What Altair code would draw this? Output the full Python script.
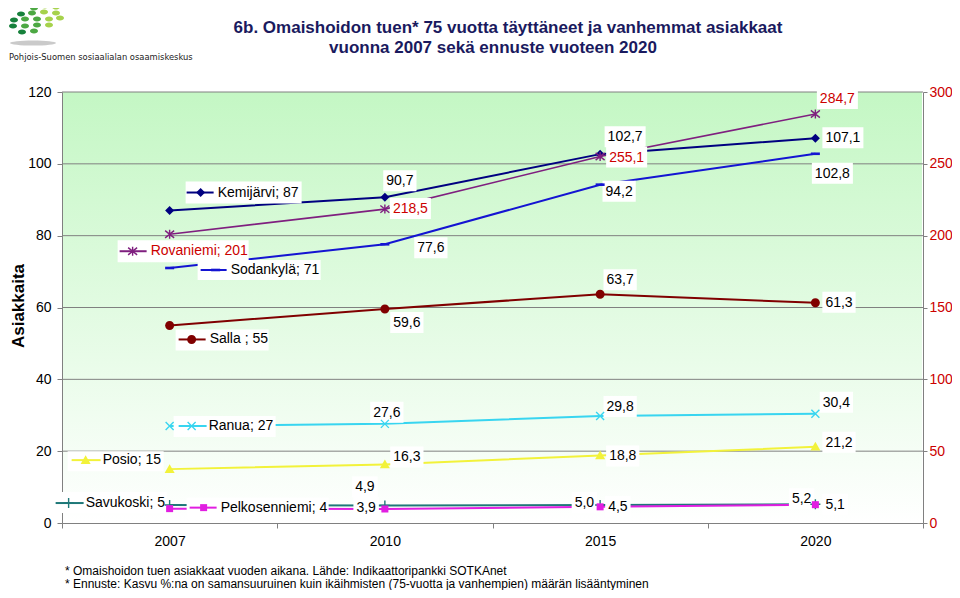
import altair as alt
import pandas as pd

# ---------------- data ----------------
years = ["2007", "2010", "2015", "2020"]
kemijarvi = [87.0, 90.7, 102.7, 107.1]
rovaniemi = [201.0, 218.5, 255.1, 284.7]
sodankyla = [71.0, 77.6, 94.2, 102.8]
salla = [55.0, 59.6, 63.7, 61.3]
ranua = [27.0, 27.6, 29.8, 30.4]
posio = [15.0, 16.3, 18.8, 21.2]
savukoski = [5.0, 4.9, 5.0, 5.2]
pelkosenniemi = [4.0, 3.9, 4.5, 5.1]

series_names = ["Kemijärvi", "Rovaniemi", "Sodankylä", "Salla", "Ranua",
                "Posio", "Savukoski", "Pelkosenniemi"]
series_values = [kemijarvi, rovaniemi, sodankyla, salla, ranua,
                 posio, savukoski, pelkosenniemi]
legend_labels = ["Kemijärvi; 87", "Rovaniemi; 201", "Sodankylä; 71", "Salla ; 55",
                 "Ranua; 27", "Posio; 15", "Savukoski; 5", "Pelkosenniemi; 4"]
right_axis_series = ["Rovaniemi"]
left_ticks = [0, 20, 40, 60, 80, 100, 120]
right_ticks = [0, 50, 100, 150, 200, 250, 300]
title_lines = ["6b. Omaishoidon tuen* 75 vuotta täyttäneet ja vanhemmat asiakkaat",
               "vuonna 2007 sekä ennuste vuoteen 2020"]
footnotes = ["* Omaishoidon tuen asiakkaat vuoden aikana. Lähde: Indikaattoripankki SOTKAnet",
             "* Ennuste: Kasvu %:na on samansuuruinen kuin ikäihmisten (75-vuotta ja vanhempien) määrän lisääntyminen"]
logo_caption = "Pohjois-Suomen sosiaalialan osaamiskeskus"
y_title = "Asiakkaita"

values = dict(zip(series_names, series_values))
legend_text = dict(zip(series_names, legend_labels))

# ---------------- style ----------------
FONT = "Liberation Sans, Arial, Helvetica, sans-serif"
X0, Y0, W, H = 62, 92, 861, 431          # plot area on the page
RED = "#CC0000"
NAVY = "#1A1A5E"

STYLE = {
    "Kemijärvi":     dict(color="#000080", width=2.0, marker="diamond", r=4.5),
    "Rovaniemi":     dict(color="#7F1F7F", width=1.6, marker="star", r=4.5),
    "Sodankylä":     dict(color="#1414D2", width=2.0, marker="dash", r=4.5),
    "Salla":         dict(color="#800000", width=2.0, marker="circle", r=4.5),
    "Ranua":         dict(color="#38D5F0", width=2.0, marker="x", r=4.0),
    "Posio":         dict(color="#F2F23A", width=2.0, marker="triangle", r=5.0),
    "Savukoski":     dict(color="#1E7878", width=2.0, marker="plus", r=5.0),
    "Pelkosenniemi": dict(color="#E11EE1", width=2.0, marker="square", r=3.5),
}
FILLED = {"diamond", "circle", "square", "triangle", "dash"}

# value-label placement (align, dx, dy) in pixels relative to the data point
LABEL_POS = {
    "Kemijärvi":     {"2010": ("center", 15, -16), "2015": ("center", 25, -17), "2020": ("left", 10, 0)},
    "Rovaniemi":     {"2010": ("left", 8, 0), "2015": ("left", 9, 1), "2020": ("center", 22, -15)},
    "Sodankylä":     {"2010": ("center", 46, 4), "2015": ("center", 19, 7), "2020": ("center", 17, 20)},
    "Salla":         {"2010": ("center", 22, 14), "2015": ("center", 20, -14), "2020": ("left", 10, 0)},
    "Ranua":         {"2010": ("center", 2, -11), "2015": ("center", 20, -9), "2020": ("center", 21, -11)},
    "Posio":         {"2010": ("center", 22, -7), "2015": ("left", 9, 1), "2020": ("left", 10, -4)},
    "Savukoski":     {"2010": ("center", -20, -18), "2015": ("right", -6, -2), "2020": ("right", -4, -5)},
    "Pelkosenniemi": {"2010": ("right", -9, -1), "2015": ("left", 8, 0), "2020": ("left", 10, 0)},
}
# legend-entry placement relative to the 2007 point
LEGEND_POS = {
    "Kemijärvi":     dict(box=(16, 132, -29, -7), line=(17, 44), dy=-18, mk=31, tx=48),
    "Rovaniemi":     dict(box=(-52, 79, 6, 28), line=(-50, -23), dy=17, mk=-37, tx=-19),
    "Sodankylä":     dict(box=(28, 151, -8, 12), line=(31, 57), dy=2, mk=46, tx=61),
    "Salla":         dict(box=(6, 99, 4, 25), line=(9, 36), dy=14, mk=22, tx=40),
    "Ranua":         dict(box=(4, 106, -10, 11), line=(9, 37), dy=0, mk=22, tx=39),
    "Posio":         dict(box=(-102, -6, -18, 2), line=(-98, -69), dy=-9, mk=-84, tx=-67),
    "Savukoski":     dict(box=(-116, -3, -13, 8), line=(-114, -86), dy=-2, mk=-101, tx=-84),
    "Pelkosenniemi": dict(box=(17, 159, -11, 10), line=(20, 47), dy=-1, mk=34, tx=51),
}


def n(v):
    return f"{round(v, 2):g}"


def rect_path(x1, x2, y1, y2):
    return f"M{n(x1)},{n(y1)}L{n(x2)},{n(y1)}L{n(x2)},{n(y2)}L{n(x1)},{n(y2)}Z"


def ellipse_path(cx, cy, rx, ry):
    return (f"M{n(cx - rx)},{n(cy)}A{n(rx)},{n(ry)},0,1,0,{n(cx + rx)},{n(cy)}"
            f"A{n(rx)},{n(ry)},0,1,0,{n(cx - rx)},{n(cy)}Z")


def marker_path(kind, cx, cy, r):
    if kind == "diamond":
        return f"M{n(cx - r)},{n(cy)}L{n(cx)},{n(cy - r)}L{n(cx + r)},{n(cy)}L{n(cx)},{n(cy + r)}Z"
    if kind == "circle":
        return ellipse_path(cx, cy, r, r)
    if kind == "square":
        return rect_path(cx - r, cx + r, cy - r, cy + r)
    if kind == "triangle":
        return f"M{n(cx)},{n(cy - r)}L{n(cx + r)},{n(cy + r * 0.75)}L{n(cx - r)},{n(cy + r * 0.75)}Z"
    if kind == "dash":
        return rect_path(cx - r, cx + r, cy - 1.3, cy + 1.3)
    if kind == "x":
        return (f"M{n(cx - r)},{n(cy - r)}L{n(cx + r)},{n(cy + r)}"
                f"M{n(cx - r)},{n(cy + r)}L{n(cx + r)},{n(cy - r)}")
    if kind == "plus":
        return f"M{n(cx - r)},{n(cy)}L{n(cx + r)},{n(cy)}M{n(cx)},{n(cy - r)}L{n(cx)},{n(cy + r)}"
    # star (asterisk)
    return (f"M{n(cx)},{n(cy - r)}L{n(cx)},{n(cy + r)}"
            f"M{n(cx - r)},{n(cy - r * 0.8)}L{n(cx + r)},{n(cy + r * 0.8)}"
            f"M{n(cx - r)},{n(cy + r * 0.8)}L{n(cx + r)},{n(cy - r * 0.8)}")


CHAR_W = {",": 0.278, " ": 0.278}


def text_w(s, size=14):
    return sum(CHAR_W.get(c, 0.556) for c in s) * size


def fmt(v):
    return f"{v:.1f}".replace(".", ",")


# ---------------- encodings ----------------
X = alt.X("year:O", bandPosition=0.5,
          scale=alt.Scale(type="band", domain=years, paddingInner=0, paddingOuter=0),
          axis=alt.Axis(title=None, labelAngle=0, labelFont=FONT, labelFontSize=14,
                        labelColor="black", tickBand="extent", tickSize=5,
                        tickColor="#808080", domainColor="#808080", labelPadding=6,
                        grid=False))
Y_LEFT = alt.Y("value:Q", scale=alt.Scale(domain=[0, 120], nice=False),
               axis=alt.Axis(values=left_ticks, orient="left", title=None,
                             labelFont=FONT, labelFontSize=14, labelColor="black",
                             labelPadding=6, tickSize=5, tickColor="#808080",
                             domainColor="#808080", grid=False))
Y_RIGHT = alt.Y("value:Q", scale=alt.Scale(domain=[0, 300], nice=False),
                axis=alt.Axis(values=right_ticks, orient="right", title=None,
                              labelFont=FONT, labelFontSize=14, labelColor=RED,
                              labelPadding=2, tickSize=4, tickColor="#808080",
                              domainColor="#808080", grid=False))

gradient = alt.LinearGradient(
    gradient="linear",
    stops=[alt.GradientStop(color="#C4F7C4", offset=0),
           alt.GradientStop(color="#FFFFFF", offset=1)],
    x1=0, x2=0, y1=0, y2=1)

dummy = pd.DataFrame({"d": [0]})
background = alt.Chart(dummy).mark_rect(color=gradient).encode(
    x=alt.value(1), x2=alt.value(W - 1), y=alt.value(0), y2=alt.value(H - 1))
gridlines = alt.Chart(pd.DataFrame({"value": left_ticks[1:]})).mark_rule(
    color="#808080", strokeWidth=1).encode(x=alt.value(0), x2=alt.value(W), y=Y_LEFT)


def series_layers(names, Y):
    rows_line, rows_box, rows_stroke, rows_fill, rows_text = [], [], [], [], []
    for name in names:
        st = STYLE[name]
        vals = values[name]
        txt_color = RED if name in right_axis_series else "black"
        for yr, v in zip(years, vals):
            rows_line.append(dict(series=name, year=yr, value=v,
                                  color=st["color"], sw=st["width"]))
            mp = marker_path(st["marker"], 0, 0, st["r"])
            if st["marker"] in FILLED:
                rows_fill.append(dict(series=name, year=yr, value=v, path=mp, color=st["color"]))
            else:
                rows_stroke.append(dict(series=name, year=yr, value=v, path=mp,
                                        color=st["color"], sw=1.4))
            if yr in LABEL_POS[name]:
                lab = fmt(v)
                align, dx, dy = LABEL_POS[name][yr]
                w = text_w(lab)
                if align == "left":
                    bx = (dx - 3, dx + w + 3)
                elif align == "right":
                    bx = (dx - w - 3, dx + 3)
                else:
                    bx = (dx - w / 2 - 3, dx + w / 2 + 3)
                rows_box.append(dict(series=name, year=yr, value=v,
                                     path=rect_path(bx[0], bx[1], dy - 11, dy + 10)))
                rows_text.append(dict(series=name, year=yr, value=v, label=lab,
                                      align=align, dx=dx, dy=dy, color=txt_color))
        # legend entry next to the 2007 point
        lg = LEGEND_POS[name]
        v0 = vals[0]
        b = lg["box"]
        rows_box.append(dict(series=name, year=years[0], value=v0,
                             path=rect_path(b[0], b[1], b[2], b[3])))
        rows_stroke.append(dict(series=name, year=years[0], value=v0,
                                path=f"M{lg['line'][0]},{lg['dy']}L{lg['line'][1]},{lg['dy']}",
                                color=st["color"], sw=2.0))
        mp = marker_path(st["marker"], lg["mk"], lg["dy"], st["r"])
        if st["marker"] in FILLED:
            rows_fill.append(dict(series=name, year=years[0], value=v0, path=mp, color=st["color"]))
        else:
            rows_stroke.append(dict(series=name, year=years[0], value=v0, path=mp,
                                    color=st["color"], sw=1.4))
        rows_text.append(dict(series=name, year=years[0], value=v0, label=legend_text[name],
                              align="left", dx=lg["tx"], dy=lg["dy"], color=txt_color))

    df_line = pd.DataFrame(rows_line)
    df_box = pd.DataFrame(rows_box)
    df_stroke = pd.DataFrame(rows_stroke)
    df_fill = pd.DataFrame(rows_fill)
    df_text = pd.DataFrame(rows_text)

    layers = [
        alt.Chart(df_line).mark_line().encode(
            x=X, y=Y, detail="series:N",
            color=alt.Color("color:N", scale=None),
            strokeWidth=alt.StrokeWidth("sw:Q", scale=None)),
        alt.Chart(df_box).mark_point(filled=True, color="white", size=4, opacity=1,
                                     strokeWidth=0).encode(
            x=X, y=Y, shape=alt.Shape("path:N", scale=None)),
    ]
    if len(df_stroke):
        layers.append(alt.Chart(df_stroke).mark_point(filled=False, size=4, opacity=1).encode(
            x=X, y=Y, shape=alt.Shape("path:N", scale=None),
            stroke=alt.Stroke("color:N", scale=None),
            strokeWidth=alt.StrokeWidth("sw:Q", scale=None)))
    if len(df_fill):
        layers.append(alt.Chart(df_fill).mark_point(filled=True, size=4, opacity=1,
                                                    strokeWidth=0).encode(
            x=X, y=Y, shape=alt.Shape("path:N", scale=None),
            fill=alt.Fill("color:N", scale=None)))
    for r in rows_text:
        layers.append(
            alt.Chart(df_text)
            .transform_filter((alt.datum.series == r["series"]) & (alt.datum.year == r["year"]))
            .mark_text(align=r["align"], baseline="middle", dx=r["dx"], dy=r["dy"],
                       font=FONT, fontSize=14, color=r["color"])
            .encode(x=X, y=Y, text="label:N"))
    return layers


left_names = [s for s in series_names if s not in right_axis_series]
left_layers = [background, gridlines] + series_layers(left_names, Y_LEFT)
right_layers = series_layers(right_axis_series, Y_RIGHT)

# ---------------- decoration (titles, notes, logo) ----------------


def page_text(txt, px, py, size, align="left", weight="normal", color="black",
              font=FONT, angle=0):
    return alt.Chart(dummy).mark_text(
        align=align, baseline="middle", font=font, fontSize=size, angle=angle,
        fontWeight=weight, color=color).encode(
        x=alt.value(px - X0), y=alt.value(py - Y0), text=alt.value(txt))


decor = [
    page_text(title_lines[0], 508, 28, 17, "center", "bold", NAVY),
    page_text(title_lines[1], 493, 48, 17, "center", "bold", NAVY),
    page_text(y_title, 19, 306, 17, "center", "bold", "black", angle=270),
    page_text(footnotes[0], 65, 571, 12),
    page_text(footnotes[1], 65, 583.5, 12),
    page_text(logo_caption, 9, 57, 9.3, color="#222222",
              font="DejaVu Sans Condensed, Liberation Sans"),
]

# logo: green dot fan and grey shadow
logo_dark = [(21, 14), (14, 20), (13, 26), (22, 32)]
logo_mid = [(34, 8), (32, 13), (25, 19), (37, 19), (25, 26), (37, 25), (34, 31)]
logo_light = [(45, 6), (56, 7), (44, 12), (56, 13), (49, 19), (60, 18), (49, 25)]
for pts, col in [(logo_dark, "#17813C"), (logo_mid, "#4CA843"), (logo_light, "#A6D24C")]:
    path = "".join(ellipse_path(x, y, 4.0, 2.5) for x, y in pts)
    decor.append(alt.Chart(dummy).mark_point(filled=True, size=4, opacity=1, strokeWidth=0,
                                             color=col, shape=path).encode(
        x=alt.value(-X0), y=alt.value(-Y0)))
decor.append(alt.Chart(dummy).mark_point(filled=True, size=4, opacity=0.8, strokeWidth=0,
                                         color="#BDBDBD",
                                         shape=ellipse_path(33, 43, 23, 2.6)).encode(
    x=alt.value(-X0), y=alt.value(-Y0)))

left = alt.layer(*(left_layers + decor))
right = alt.layer(*right_layers)

PAD_L = X0 - 8
PAD_T = Y0 - 8
chart = (
    alt.layer(left, right)
    .resolve_scale(y="independent")
    .properties(width=W, height=H,
                padding={"left": PAD_L, "top": PAD_T,
                         "right": 944 - PAD_L - W, "bottom": 582 - PAD_T - H},
                autosize=alt.AutoSizeParams(type="none"))
    .configure_view(strokeWidth=0)
)

chart.save("out.html", embed_options={"renderer": "svg", "actions": False})
